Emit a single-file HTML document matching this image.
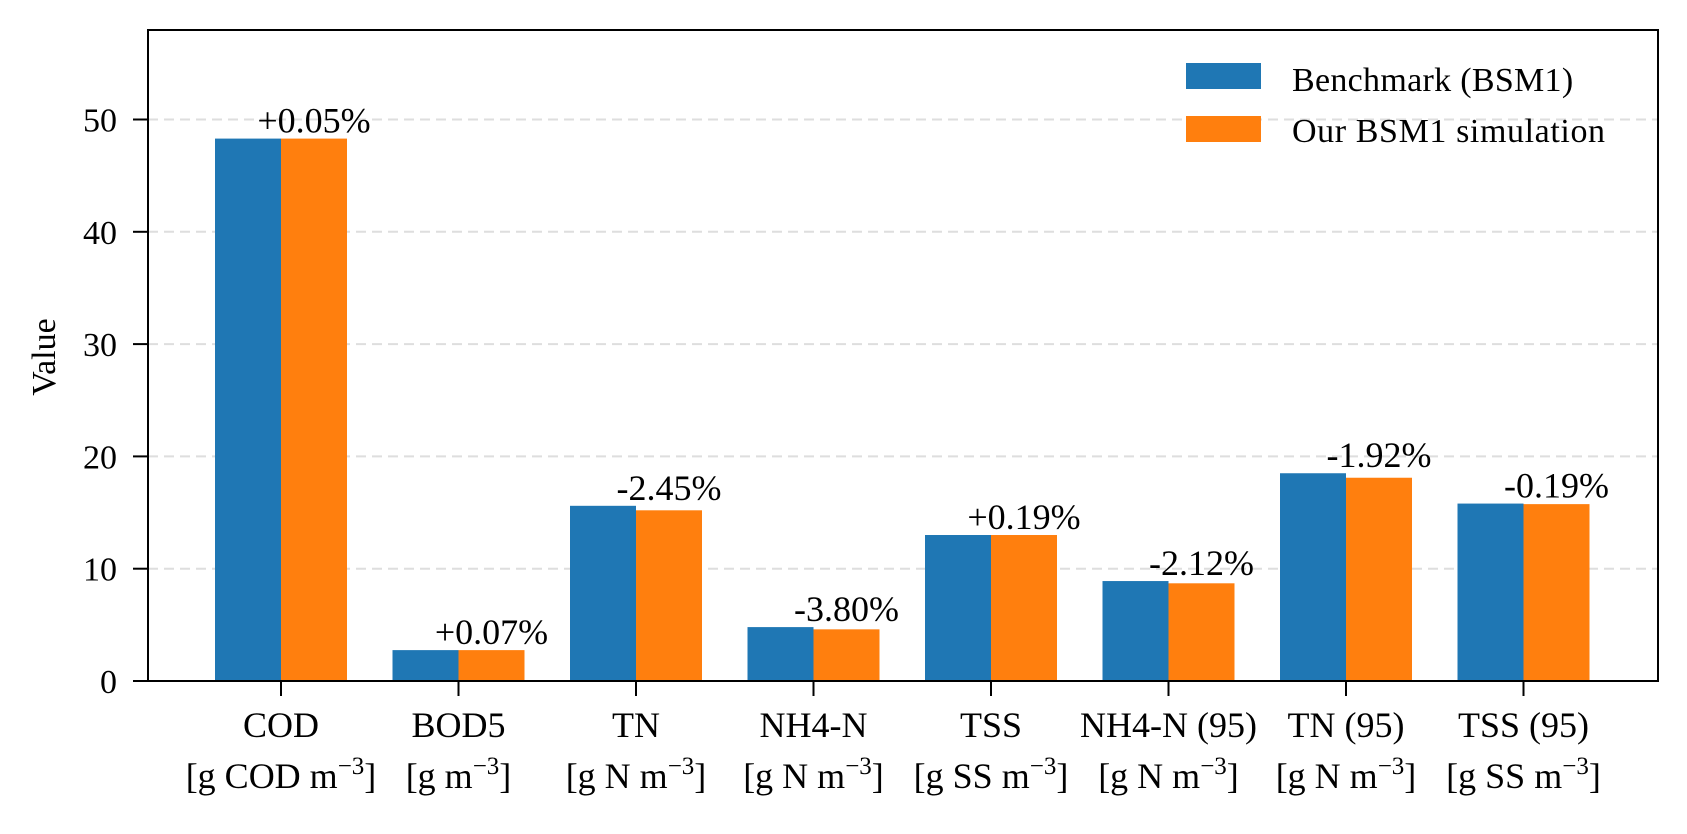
<!DOCTYPE html>
<html><head><meta charset="utf-8"><style>
body{margin:0;background:#fff}
svg text{font-family:"Liberation Serif","DejaVu Serif",serif;fill:#000}
</style></head><body>
<svg id="chart" width="1687" height="829" xmlns="http://www.w3.org/2000/svg">
<g id="grid"></g>
<g id="bars"></g>
<g id="labels"></g>
<rect x="148" y="30" width="1510" height="651" fill="none" stroke="#000" stroke-width="2"/>
<g id="yaxis"></g>
<g id="xaxis"></g>
<text transform="translate(55,357) rotate(-90)" text-anchor="middle" font-size="34">Value</text>
<g>
<rect x="1186" y="63" width="75" height="26" fill="#1f77b4"/>
<text x="1292" y="91" font-size="34" letter-spacing="0.3">Benchmark (BSM1)</text>
<rect x="1186" y="116" width="75" height="26" fill="#ff7f0e"/>
<text x="1292" y="142" font-size="34" letter-spacing="0.6">Our BSM1 simulation</text>
</g>
</svg>
<script>
const categories=["COD","BOD5","TN","NH4-N","TSS","NH4-N (95)","TN (95)","TSS (95)"];
const units=["g COD m","g m","g N m","g N m","g SS m","g N m","g N m","g SS m"];
const benchmark=[48.3,2.75,15.6,4.8,13.0,8.9,18.5,15.8];
const simulation=[48.3,2.75,15.2,4.6,13.0,8.7,18.1,15.75];
const pctLabels=["+0.05%","+0.07%","-2.45%","-3.80%","+0.19%","-2.12%","-1.92%","-0.19%"];
const yTicks=[0,10,20,30,40,50];
const NS="http://www.w3.org/2000/svg";
const y0=681,yTop=30,yMax=(681-30)/11.23;
const ys=v=>y0-v/yMax*(y0-yTop);
const xc=i=>281+i*177.5;
const bw=66;
function mk(t,a,p){const e=document.createElementNS(NS,t);for(const k in a)e.setAttribute(k,a[k]);p.appendChild(e);return e;}
const grid=document.getElementById('grid'),yax=document.getElementById('yaxis'),xax=document.getElementById('xaxis'),bars=document.getElementById('bars'),lab=document.getElementById('labels');
yTicks.forEach(v=>{
 if(v>0){const g=mk('line',{x1:148,x2:1658,y1:ys(v),y2:ys(v),stroke:'#dedede','stroke-width':2,'stroke-dasharray':'10,6'},grid);
 
 }
 const t=mk('line',{x1:133,x2:148,y1:ys(v),y2:ys(v),stroke:'#000','stroke-width':2},yax);
 
 
 const l=mk('text',{x:117,y:ys(v)+12,'text-anchor':'end','font-size':34},yax);l.textContent=v;
 
 
});
categories.forEach((c,i)=>{
 const x=xc(i);
 const b=mk('rect',{x:x-bw,y:ys(benchmark[i]),width:bw,height:y0-ys(benchmark[i]),fill:'#1f77b4'},bars);
 
 
 const o=mk('rect',{x:x,y:ys(simulation[i]),width:bw,height:y0-ys(simulation[i]),fill:'#ff7f0e'},bars);
 
 
 const p=mk('text',{x:x+bw/2,y:Math.min(ys(benchmark[i]),ys(simulation[i]))-6,'text-anchor':'middle','font-size':36},lab);p.textContent=pctLabels[i];
 
 
 const tk=mk('line',{x1:x,x2:x,y1:681,y2:696,stroke:'#000','stroke-width':2},xax);
 
 
 const t1=mk('text',{x:x,y:737,'text-anchor':'middle','font-size':36},xax);t1.textContent=c;
 
 
 const t2=mk('text',{x:x,y:788,'text-anchor':'middle','font-size':36},xax);
 
 
 t2.innerHTML='['+units[i]+'<tspan dy="-14" font-size="25">\u22123</tspan><tspan dy="14">]</tspan>';
});
</script>
</body></html>
